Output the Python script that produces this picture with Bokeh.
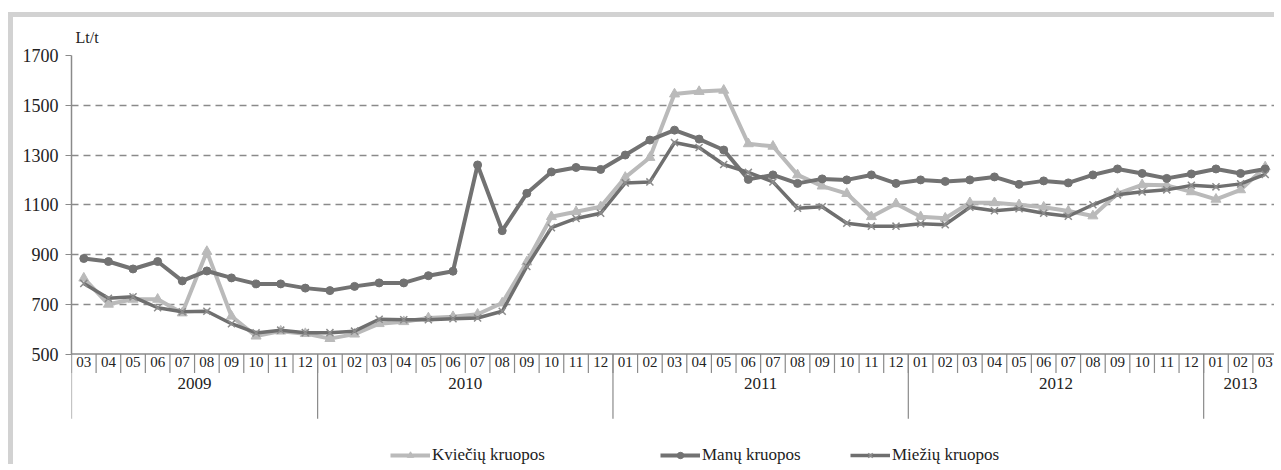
import numpy as np
from bokeh.plotting import figure
from bokeh.models import Range1d, FixedTicker, Legend, LegendItem, Title, Span
from bokeh.core.properties import value
from bokeh.embed import file_html
from bokeh.resources import INLINE

months = ["03", "04", "05", "06", "07", "08", "09", "10", "11", "12",
          "01", "02", "03", "04", "05", "06", "07", "08", "09", "10", "11", "12",
          "01", "02", "03", "04", "05", "06", "07", "08", "09", "10", "11", "12",
          "01", "02", "03", "04", "05", "06", "07", "08", "09", "10", "11", "12",
          "01", "02", "03"]
years = ["2009"] * 10 + ["2010"] * 12 + ["2011"] * 12 + ["2012"] * 12 + ["2013"] * 3

kvieciu = [805, 700, 720, 720, 665, 912, 652, 572, 592, 582,
           562, 580, 622, 630, 645, 650, 660, 705, 870, 1052, 1072, 1092,
           1210, 1290, 1545, 1555, 1560, 1345, 1335, 1220, 1175, 1145, 1052, 1104,
           1052, 1046, 1108, 1108, 1100, 1090, 1075, 1055, 1145, 1180, 1178, 1152,
           1122, 1160, 1252]
manu = [884, 872, 842, 872, 794, 834, 806, 782, 782, 765,
        755, 772, 786, 786, 815, 833, 1260, 996, 1146, 1232, 1250, 1242,
        1300, 1360, 1400, 1364, 1320, 1202, 1220, 1186, 1204, 1200, 1220, 1186,
        1200, 1194, 1200, 1212, 1182, 1196, 1188, 1220, 1244, 1226, 1206, 1224,
        1244, 1226, 1244]
miezu = [784, 724, 730, 686, 670, 672, 622, 585, 596, 586,
         586, 592, 640, 638, 638, 642, 645, 672, 852, 1008, 1045, 1066,
         1188, 1192, 1350, 1330, 1262, 1230, 1192, 1086, 1092, 1026, 1014, 1014,
         1024, 1020, 1090, 1076, 1084, 1066, 1054, 1100, 1140, 1152, 1160, 1178,
         1172, 1184, 1222]

y_ticks = [500, 700, 900, 1100, 1300, 1500, 1700]
series_names = ["Kviečių kruopos", "Manų kruopos", "Miežių kruopos"]

FONT = "Liberation Serif"
GRAY = "#8a8a8a"
TXT = "#222222"
n = len(months)
x = (np.arange(n) + 0.5).tolist()
y_min = y_ticks[0]
px = 4.0  # value units per screen pixel on the y scale (1200 units over 300 px)

# frame extends below the value axis so the two-level category labels fit
p = figure(width=1266, height=452, output_backend="svg", toolbar_location=None,
           x_range=Range1d(0, n), y_range=Range1d(y_ticks[-1] - 414 * px, y_ticks[-1]),
           min_border_left=58, min_border_top=36, min_border_right=2, min_border_bottom=2)
p.styles = {"border-left": "5px solid #d2d2d2", "border-top": "5px solid #d2d2d2",
            "margin-top": "12px", "margin-left": "8px"}
p.outline_line_color = None
p.background_fill_color = "white"
p.xaxis.visible = False
p.xgrid.visible = False

p.title = Title(text="Lt/t", text_font=FONT, text_font_size="16px", text_font_style="normal",
                text_color=TXT, align="left", offset=4, standoff=19)

# y axis (only spans the value range)
p.yaxis.ticker = FixedTicker(ticks=y_ticks)
p.yaxis.bounds = (y_ticks[0], y_ticks[-1])
p.yaxis.major_label_text_font = FONT
p.yaxis.major_label_text_font_size = "18px"
p.yaxis.major_label_text_color = TXT
p.yaxis.axis_line_color = GRAY
p.yaxis.axis_line_width = 1.5
p.yaxis.major_tick_line_color = GRAY
p.yaxis.major_tick_out = 6
p.yaxis.major_tick_in = 0
p.yaxis.minor_tick_line_color = None
p.yaxis.major_label_standoff = 7

p.ygrid.ticker = FixedTicker(ticks=y_ticks[1:])
p.ygrid.grid_line_color = GRAY
p.ygrid.grid_line_dash = "7 5"
p.ygrid.grid_line_width = 1.5

# category axis line
p.add_layout(Span(location=y_min, dimension="width", line_color=GRAY, line_width=1.5))

# month separators and labels
m_bounds = list(range(n + 1))
p.segment(x0=m_bounds, y0=[y_min] * (n + 1), x1=m_bounds, y1=[y_min - 19 * px] * (n + 1),
          line_color=GRAY, line_width=1.2)
p.text(x=x, y=[y_min - 8 * px] * n, text=months, text_font=value(FONT),
       text_font_size="15px", text_color=TXT, text_align="center", text_baseline="middle")

# year separators and labels
uniq_years = []
y_bounds = [0]
for i, yv in enumerate(years):
    if not uniq_years or uniq_years[-1] != yv:
        if uniq_years:
            y_bounds.append(i)
        uniq_years.append(yv)
y_bounds.append(n)
centers = [(y_bounds[k] + y_bounds[k + 1]) / 2 for k in range(len(uniq_years))]
p.segment(x0=y_bounds, y0=[y_min] * len(y_bounds), x1=y_bounds,
          y1=[y_min - 65 * px] * len(y_bounds), line_color=GRAY, line_width=1.2)
p.text(x=centers, y=[y_min - 30 * px] * len(centers), text=uniq_years, text_font=value(FONT),
       text_font_size="17px", text_color=TXT, text_align="center", text_baseline="middle")

LIGHT = "#bababa"
DARK = "#727272"
DARK2 = "#6f6f6f"

l1 = p.line(x, kvieciu, line_color=LIGHT, line_width=4)
m1 = p.scatter(x, kvieciu, marker="triangle", size=10, fill_color=LIGHT, line_color=LIGHT)
l2 = p.line(x, manu, line_color=DARK, line_width=4)
m2 = p.scatter(x, manu, marker="circle", size=8, fill_color=DARK, line_color=DARK)
l3 = p.line(x, miezu, line_color=DARK2, line_width=3.5)
m3 = p.scatter(x, miezu, marker="x", size=10, line_color="#8c8c8c", line_width=1.5)

legend_x = [319, 589, 779]
for name, rs, lx in zip(series_names, [[l1, m1], [l2, m2], [l3, m3]], legend_x):
    lg = Legend(items=[LegendItem(label=name, renderers=rs)], location=(lx, 2),
                orientation="horizontal", border_line_color=None, background_fill_alpha=0,
                padding=0, margin=0, glyph_width=40, glyph_height=16, label_height=16,
                label_standoff=2, label_text_font=FONT, label_text_font_size="17px",
                label_text_color=TXT)
    p.add_layout(lg, "center")

open("out.html", "w").write(file_html(p, INLINE))
